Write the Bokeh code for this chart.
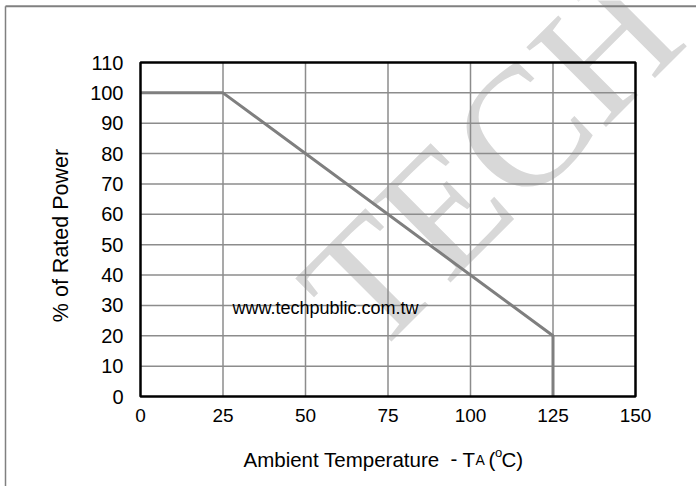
import math
from bokeh.plotting import figure
from bokeh.models import Label, FixedTicker, Range1d
from bokeh.embed import file_html
from bokeh.resources import INLINE

# ---- data ----
temp_c = [0, 25, 125, 125]
rated_power = [100, 100, 20, 0]
x_ticks = [0, 25, 50, 75, 100, 125, 150]
y_ticks = [0, 10, 20, 30, 40, 50, 60, 70, 80, 90, 100, 110]
x_lim = (0, 150)
y_lim = (0, 110)

SANS = "Liberation Sans"
W, H = 696, 486
# chart box placement inside the canvas (pixels)
BOX_L, BOX_R, BOX_T, BOX_B = 140, 635, 62, 396
kx = (BOX_R - BOX_L) / (x_lim[1] - x_lim[0])
ky = (BOX_B - BOX_T) / (y_lim[1] - y_lim[0])
xr = Range1d(x_lim[0] - BOX_L / kx, x_lim[0] + (W - BOX_L) / kx)
yr = Range1d(y_lim[0] - (H - BOX_B) / ky, y_lim[0] + BOX_B / ky)

def px_x(px):
    return x_lim[0] + (px - BOX_L) / kx

def px_y(py):
    return y_lim[0] + (BOX_B - py) / ky

p = figure(width=W, height=H, output_backend="svg", toolbar_location=None,
           x_range=xr, y_range=yr, min_border=0)
p.title.visible = False
p.outline_line_color = None
p.background_fill_color = "white"
p.border_fill_color = "white"
p.grid.visible = False

# axes drawn at the chart box edges
p.xaxis.fixed_location = y_lim[0]
p.yaxis.fixed_location = x_lim[0]
p.xaxis.ticker = FixedTicker(ticks=x_ticks)
p.yaxis.ticker = FixedTicker(ticks=y_ticks)
p.axis.axis_line_color = None
p.axis.major_tick_line_color = None
p.axis.minor_tick_line_color = None
p.axis.major_tick_out = 0
p.axis.major_tick_in = 0
p.axis.major_label_text_font = SANS
p.axis.major_label_text_color = "black"
p.yaxis.major_label_text_font_size = "20px"
p.xaxis.major_label_text_font_size = "19px"
p.yaxis.major_label_standoff = 17
p.xaxis.major_label_standoff = 12

# watermark
p.add_layout(Label(x=px_x(490), y=px_y(160), text="TECH", angle=math.radians(45),
                   text_align="center", text_baseline="middle",
                   text_font="Liberation Serif", text_font_size="172px",
                   text_color="#d8d8d8", level="image"))

# page border (top and left)
p.segment(x0=[px_x(5), px_x(5)], y0=[px_y(5.7), px_y(5.7)],
          x1=[px_x(W), px_x(5)], y1=[px_y(5.7), px_y(H)],
          line_color="#808080", line_width=[2, 1.5])

# grid
inner_x = x_ticks[1:-1]
inner_y = y_ticks[1:-1]
p.segment(x0=inner_x, y0=[y_lim[0]] * len(inner_x), x1=inner_x, y1=[y_lim[1]] * len(inner_x),
          line_color="#8c8c8c", line_width=1.5)
p.segment(x0=[x_lim[0]] * len(inner_y), y0=inner_y, x1=[x_lim[1]] * len(inner_y), y1=inner_y,
          line_color="#8c8c8c", line_width=1.5)

# derating curve
p.line(temp_c, rated_power, line_color="#7f7f7f", line_width=3)

# chart box
p.quad(left=[x_lim[0]], right=[x_lim[1]], bottom=[y_lim[0]], top=[y_lim[1]],
       fill_alpha=0, line_color="black", line_width=2.5)

p.add_layout(Label(x=px_x(232), y=px_y(307.5), text="www.techpublic.com.tw",
                   text_font=SANS, text_font_size="18px", text_color="black",
                   text_baseline="alphabetic"))

# y axis title
p.add_layout(Label(x=px_x(60), y=px_y(235), text="% of Rated Power", angle=math.pi / 2,
                   text_align="center", text_baseline="middle",
                   text_font=SANS, text_font_size="21.5px", text_color="black"))

# x axis title pieces
def piece(px, py, txt, size="20.5px"):
    p.add_layout(Label(x=px_x(px), y=px_y(py), text=txt, text_font=SANS, text_font_size=size,
                       text_color="black", text_baseline="alphabetic"))

piece(243, 458.5, "Ambient Temperature")
piece(450, 458.5, "-")
piece(462, 458.5, "T")
piece(475, 459.5, "A", "14px")
piece(488, 458.5, "(")
piece(494.5, 451.5, "o", "13px")
piece(501, 458.5, "C)")

open("out.html", "w").write(file_html(p, INLINE))
